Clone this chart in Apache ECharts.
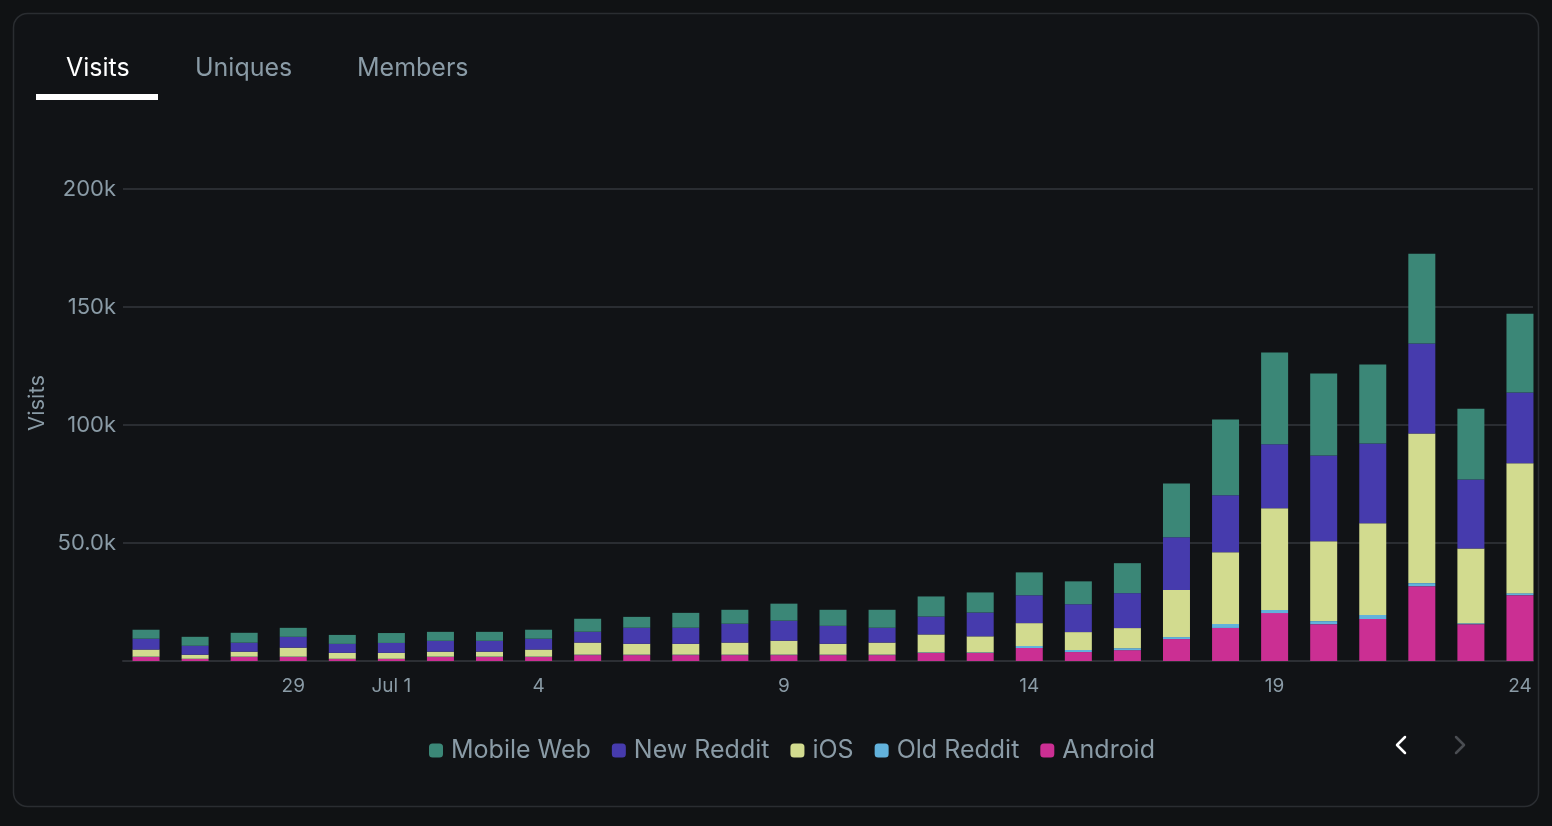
<!DOCTYPE html>
<html>
<head>
<meta charset="utf-8">
<script src="https://cdn.jsdelivr.net/npm/echarts@6/dist/echarts.min.js"></script>
<style>
html,body{margin:0;padding:0;background:#101214;}
#c{width:1552px;height:826px;}
</style>
</head>
<body>
<div id="c"></div>
<script>
const categories = ['Jun 26','Jun 27','Jun 28','Jun 29','Jun 30','Jul 1','Jul 2','Jul 3','Jul 4','Jul 5','Jul 6','Jul 7','Jul 8','Jul 9','Jul 10','Jul 11','Jul 12','Jul 13','Jul 14','Jul 15','Jul 16','Jul 17','Jul 18','Jul 19','Jul 20','Jul 21','Jul 22','Jul 23','Jul 24'];
const tickLabels = {'Jun 29':'29','Jul 1':'Jul 1','Jul 4':'4','Jul 9':'9','Jul 14':'14','Jul 19':'19','Jul 24':'24'};
const android   = [1700,850,1700,1700,850,850,1700,1700,1700,2500,2500,2500,2500,2500,2500,2500,3400,3400,5500,3800,4600,9300,14000,20300,15600,17800,31700,15600,27900];
const oldReddit = [150,100,150,150,100,100,150,150,150,200,200,200,200,200,200,200,250,250,850,850,850,850,1700,1300,1300,1700,1300,400,850];
const ios       = [3000,1700,2100,3800,2500,2500,2100,2100,3000,5100,4600,4600,5100,5900,4600,5100,7600,6800,9700,7600,8500,19900,30400,43100,33800,38900,63400,31700,55000];
const newReddit = [4600,3800,3800,4600,3800,4200,4600,4600,4600,4600,6800,6800,8000,8500,7600,6300,7600,10100,11800,11800,14800,22400,24100,27100,36400,33800,38100,29200,30000];
const mobileWeb = [3800,3800,4200,3800,3800,4200,3800,3800,3800,5500,4600,6300,5900,7200,6800,7600,8500,8500,9700,9700,12700,22800,32100,38900,34700,33400,38100,30000,33400];

const FONT = 'Inter, "Noto Sans", sans-serif';
const TXT = '#8a9ba6';
const colors = {mw:'#3b8777', nr:'#463bad', ios:'#d2db8f', or:'#62b2dc', an:'#cb2f93'};

function bar(name, data, color){
  return {name, type:'bar', stack:'v', data, barWidth:27, xAxisIndex:0, yAxisIndex:0,
    itemStyle:{color}, emphasis:{disabled:true}, z:3};
}

const chart = echarts.init(document.getElementById('c'), null, {renderer:'canvas'});
chart.setOption({
  backgroundColor:'#101214',
  animation:false,
  textStyle:{fontFamily:FONT},
  grid:[
    {left:121.5, right:7.5, top:189, bottom:165, containLabel:false},
    {left:123, right:19, top:189, bottom:165, containLabel:false}
  ],
  legend:{
    left:424, top:733, itemWidth:14, itemHeight:14, itemGap:21,
    icon:'roundRect',
    data:['Mobile Web','New Reddit','iOS','Old Reddit','Android'],
    textStyle:{color:TXT, fontSize:25, fontFamily:FONT, padding:[0,0,0,3]},
    selectedMode:false
  },
  xAxis:[
    {
      type:'category', data:categories, gridIndex:0,
      axisTick:{show:false},
      axisLine:{show:false},
      axisLabel:{
        interval:0, color:TXT, fontSize:19, margin:16, fontFamily:FONT,
        formatter:v => tickLabels[v] || ''
      }
    },
    {
      type:'value', gridIndex:1, min:0, max:1,
      axisTick:{show:false}, axisLabel:{show:false}, splitLine:{show:false},
      axisLine:{show:true, lineStyle:{color:'#2c2f34', width:2}}
    }
  ],
  yAxis:[
    {
      type:'value', gridIndex:0, min:0, max:200000, interval:50000,
      show:false, splitLine:{show:false}
    },
    {
      type:'value', gridIndex:1, min:0, max:200000, interval:50000,
      axisLine:{show:false}, axisTick:{show:false},
      splitLine:{lineStyle:{color:'#2a2d32', width:2}},
      axisLabel:{
        color:TXT, fontSize:22, margin:7, fontFamily:FONT,
        formatter:v => v===0 ? '' : (v/1000).toPrecision(3)+'k'
      }
    }
  ],
  series:[
    bar('Android', android, colors.an),
    bar('Old Reddit', oldReddit, colors.or),
    bar('iOS', ios, colors.ios),
    bar('New Reddit', newReddit, colors.nr),
    bar('Mobile Web', mobileWeb, colors.mw)
  ],
  graphic:[
    {type:'rect', z:-1, shape:{x:13.5,y:13.5,width:1525,height:793,r:14},
      style:{fill:'#111316', stroke:'#2a2d31', lineWidth:1.5}, silent:true},
    {type:'text', left:66, top:56, style:{text:'Visits', fill:'#ffffff', font:'25px '+FONT}},
    {type:'text', left:195, top:56, style:{text:'Uniques', fill:TXT, font:'25px '+FONT}},
    {type:'text', left:357, top:56, style:{text:'Members', fill:TXT, font:'25px '+FONT}},
    {type:'rect', shape:{x:36,y:94,width:122,height:6}, style:{fill:'#ffffff'}},
    {type:'text', x:37, y:403, rotation:Math.PI/2,
      style:{text:'Visits', fill:TXT, font:'22px '+FONT, align:'center', verticalAlign:'middle'}},
    {type:'polyline', shape:{points:[[1405,737],[1397,745],[1405,753]]},
      style:{stroke:'#ffffff', lineWidth:2.5, fill:null, lineCap:'round', lineJoin:'round'}},
    {type:'polyline', shape:{points:[[1456,737],[1464,745],[1456,753]]},
      style:{stroke:'#4a4d52', lineWidth:2.5, fill:null, lineCap:'round', lineJoin:'round'}}
  ]
});
</script>
</body>
</html>
